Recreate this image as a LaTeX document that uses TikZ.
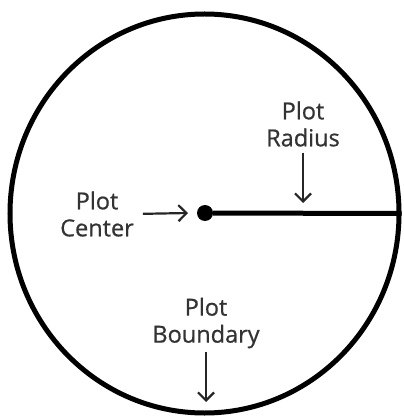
\documentclass[tikz,border=0pt]{standalone}
\usepackage{fontspec}
\setmainfont[FakeBold=0.7]{Open Sans}
\usetikzlibrary{arrows.meta,shapes.geometric}
\definecolor{textgrey}{HTML}{333333}

\begin{document}
\begin{tikzpicture}[x=1pt,y=-1pt]
	\tikzset{plotlabel/.style = {align=center, text=textgrey, inner sep=0pt,
	    font=\fontsize{23.5}{27}\selectfont}}
	\tikzset{pointer/.style={draw=black!85, line width=2.2pt,
	    -{Straight Barb[length=8pt,width=16pt,line width=2.2pt]}}}
	\useasboundingbox (0,0) rectangle (403,419);

	% circle and centre
	\node[ellipse, draw, line width=5pt, inner sep=0pt,
	    minimum width=389pt, minimum height=399pt] (boundary) at (204.5,213.5) {};
	\node[circle, fill, inner sep=0pt, minimum size=16pt] (center) at (205,213) {};
	\draw[line width=5pt] (center) -- (boundary.east);

	% labels
	\node[plotlabel] (radiustext) at (303,124) {Plot\\Radius};
	\node[plotlabel] (centertext) at (97,214) {Plot\\Center};
	\node[plotlabel] (boundarytext) at (206,323) {Plot\\Boundary};
	\coordinate (radiustip) at (303,203);
	\coordinate (centertip) at (188,213);
	\coordinate (boundarytip) at (206,402);

	% arrows
	\draw[pointer, shorten <=6pt] (radiustext.south) -- (radiustip);
	\draw[pointer, shorten <=9pt] (centertext.east) -- (centertip);
	\draw[pointer, shorten <=4pt] (boundarytext.south) -- (boundarytip);
\end{tikzpicture}
\end{document}
